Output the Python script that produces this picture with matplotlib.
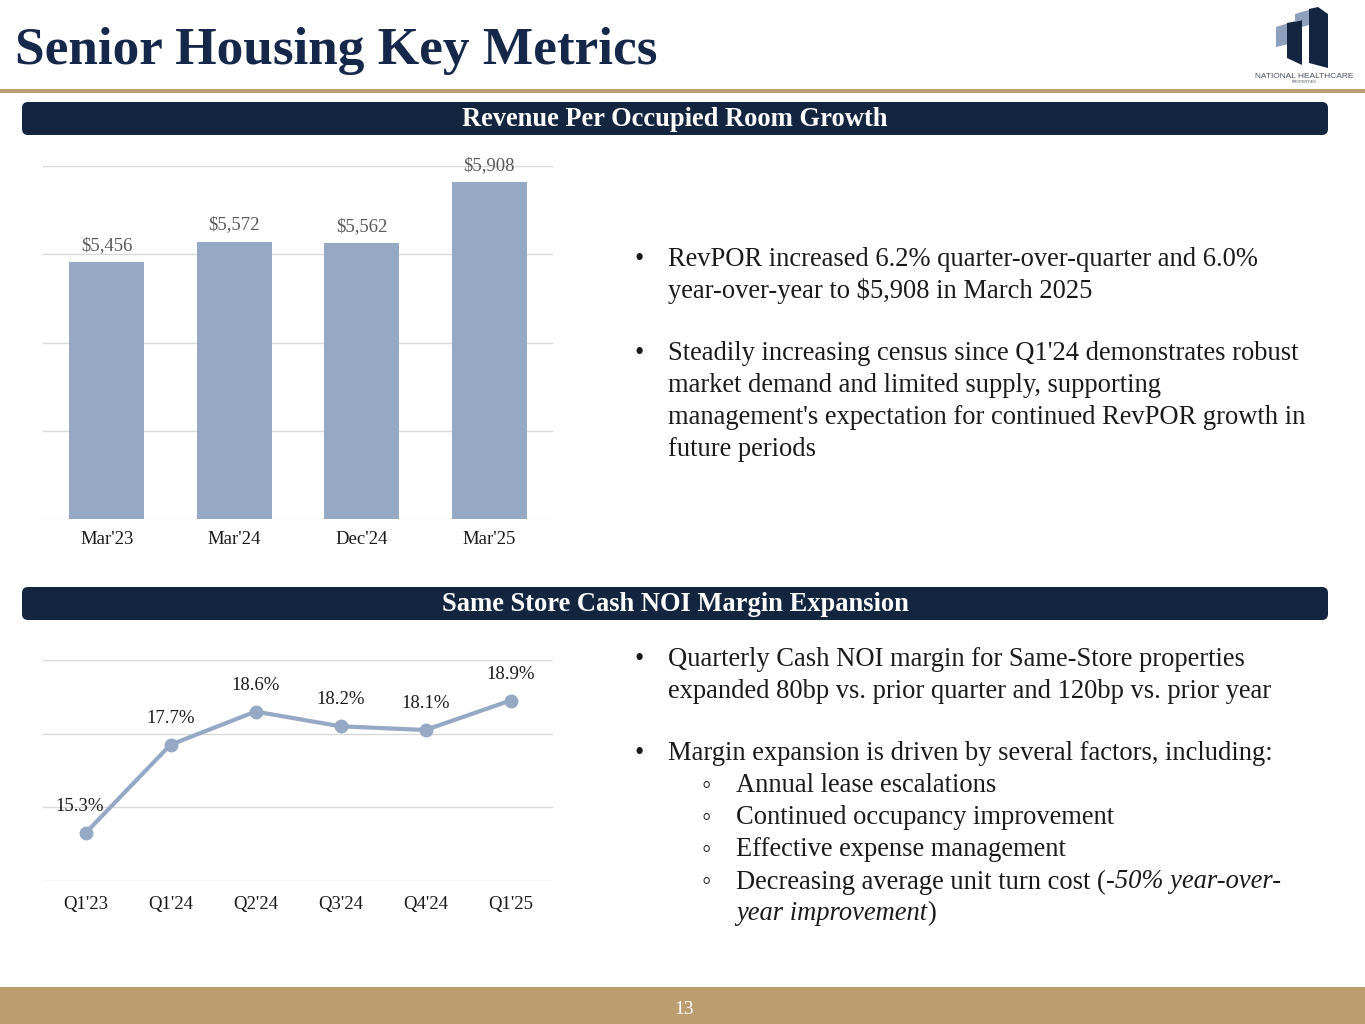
import matplotlib
matplotlib.use("Agg")
import matplotlib.pyplot as plt
from matplotlib.patches import FancyBboxPatch, Rectangle, Polygon
from matplotlib.transforms import IdentityTransform

# ---------------- data ----------------
bar_categories = ["Mar'23", "Mar'24", "Dec'24", "Mar'25"]
bar_values = [5456, 5572, 5562, 5908]
bar_labels = ["$5,456", "$5,572", "$5,562", "$5,908"]

line_categories = ["Q1'23", "Q1'24", "Q2'24", "Q3'24", "Q4'24", "Q1'25"]
line_values = [15.3, 17.7, 18.6, 18.2, 18.1, 18.9]
line_labels = ["15.3%", "17.7%", "18.6%", "18.2%", "18.1%", "18.9%"]

title_text = "Senior Housing Key Metrics"
header1 = "Revenue Per Occupied Room Growth"
header2 = "Same Store Cash NOI Margin Expansion"
page_number = "13"

# ---------------- style ----------------
W, H = 1365, 1024
SERIF = ["Liberation Serif", "DejaVu Serif"]
NAVY = "#13253f"
TITLE_NAVY = "#15284a"
GOLD = "#bb9d70"
BAR_COLOR = "#95a8c4"
GRID = "#d9d9d9"
TXT = "#1a1a1a"

plt.rcParams['font.family'] = SERIF

fig = plt.figure(figsize=(W / 100, H / 100), dpi=100)


def fx(x):
    return x / W


def fy(y):
    return 1 - y / H


def ftext(x, y, s, **kw):
    kw.setdefault("family", SERIF)
    return fig.text(fx(x), fy(y), s, **kw)


# title
ftext(15, 51, title_text, fontsize=38.3, fontweight="bold", color=TITLE_NAVY,
      ha="left", va="center")

# gold rule under title
fig.patches.append(Rectangle((0, H - 93), W, 4, transform=IdentityTransform(),
                             facecolor=GOLD, edgecolor="none"))

# logo (approximate)
logo_light = "#8d9fbd"
logo_dark = "#13253f"
polys = [
    ([(1276, 27), (1289, 23), (1289, 44), (1276, 47)], logo_light),
    ([(1287, 23), (1302, 20), (1302, 65), (1287, 58)], logo_dark),
    ([(1295, 14), (1312, 9), (1312, 24), (1302, 27), (1302, 20), (1295, 22)], logo_light),
    ([(1309, 9), (1318, 7), (1328, 14), (1328, 68), (1309, 63)], logo_dark),
]
for pts, col in polys:
    fig.patches.append(Polygon([(x, H - y) for x, y in pts], closed=True,
                               transform=IdentityTransform(), facecolor=col,
                               edgecolor="none"))
fig.text(fx(1304), fy(76), "NATIONAL HEALTHCARE", fontsize=6.0, color="#4a5366",
         ha="center", va="center", family=["Liberation Sans", "DejaVu Sans"])
fig.text(fx(1304), fy(82), "PROPERTIES", fontsize=2.8, color="#4a5366",
         ha="center", va="center", family=["Liberation Sans", "DejaVu Sans"])


# section headers
def header(y0, y1, text):
    fig.patches.append(FancyBboxPatch((22, H - y1), 1306, y1 - y0,
                                      boxstyle="round,pad=0,rounding_size=6",
                                      transform=IdentityTransform(),
                                      facecolor=NAVY, edgecolor="none"))
    ftext(675, (y0 + y1) / 2 + 1, text, fontsize=19.1, fontweight="bold",
          color="white", ha="center", va="center")


header(102, 135, header1)
header(587, 620, header2)

# footer
fig.patches.append(Rectangle((0, 0), W, H - 987, transform=IdentityTransform(),
                             facecolor=GOLD, edgecolor="none"))
ftext(684, 1009, page_number, fontsize=14, color="white", ha="center", va="center")

# ---------------- bar chart ----------------
ax1 = fig.add_axes([fx(43), fy(519), (553 - 43) / W, (519 - 166) / H])
x1 = list(range(len(bar_categories)))
ax1.bar(x1, bar_values, width=0.59, color=BAR_COLOR, zorder=2)
ax1.set_ylim(4000, 6000)
ax1.set_xlim(-0.5, len(bar_categories) - 0.5)
ax1.set_yticks([4000, 4500, 5000, 5500, 6000])
ax1.yaxis.grid(True, color=GRID, lw=1, zorder=0)
ax1.set_yticklabels([])
ax1.tick_params(axis="both", length=0)
ax1.set_xticks(x1)
ax1.set_xticklabels(bar_categories, fontsize=13.5, color=TXT)
ax1.tick_params(axis="x", pad=9)
for s in ax1.spines.values():
    s.set_visible(False)
for xi, v, lab in zip(x1, bar_values, bar_labels):
    ax1.annotate(lab, (xi, v), xytext=(0, 12), textcoords="offset points",
                 ha="center", va="center", fontsize=13.5, color="#595959")

# ---------------- line chart ----------------
ax2 = fig.add_axes([fx(43), fy(881), (553 - 43) / W, (881 - 660) / H])
x2 = list(range(len(line_categories)))
ax2.plot(x2, line_values, color=BAR_COLOR, lw=3, marker="o", markersize=9,
         zorder=3)
ax2.set_ylim(14, 20)
ax2.set_xlim(-0.5, len(line_categories) - 0.5)
ax2.set_yticks([14, 16, 18, 20])
ax2.yaxis.grid(True, color=GRID, lw=1, zorder=0)
ax2.set_yticklabels([])
ax2.tick_params(axis="both", length=0)
ax2.set_xticks(x2)
ax2.set_xticklabels(line_categories, fontsize=13.5, color=TXT)
ax2.tick_params(axis="x", pad=11)
for s in ax2.spines.values():
    s.set_visible(False)
offsets = [(-4, 19), (0, 19), (0, 19), (0, 19), (0, 19), (0, 19)]
for xi, v, lab, off in zip(x2, line_values, line_labels, offsets):
    ax2.annotate(lab, (xi, v), xytext=off, textcoords="offset points",
                 ha="center", va="center", fontsize=13.5, color=TXT)

# ---------------- bullet text ----------------
FS = 19.1
bullets_top = [
    (259, "•", "RevPOR increased 6.2% quarter-over-quarter and 6.0%"),
    (291, None, "year-over-year to $5,908 in March 2025"),
    (354, "•", "Steadily increasing census since Q1'24 demonstrates robust"),
    (386, None, "market demand and limited supply, supporting"),
    (418, None, "management's expectation for continued RevPOR growth in"),
    (450, None, "future periods"),
]
for y, b, t in bullets_top:
    if b:
        ftext(634, y, b, fontsize=FS, color=TXT, ha="left", va="center")
    ftext(668, y, t, fontsize=FS, color=TXT, ha="left", va="center")

bullets_bot = [
    (659, "•", "Quarterly Cash NOI margin for Same-Store properties"),
    (691, None, "expanded 80bp vs. prior quarter and 120bp vs. prior year"),
    (754, "•", "Margin expansion is driven by several factors, including:"),
]
for y, b, t in bullets_bot:
    if b:
        ftext(634, y, b, fontsize=FS, color=TXT, ha="left", va="center")
    ftext(668, y, t, fontsize=FS, color=TXT, ha="left", va="center")

subs = [
    (786, "Annual lease escalations"),
    (818, "Continued occupancy improvement"),
    (850, "Effective expense management"),
]
for y, t in subs:
    ftext(702, y, "◦", fontsize=FS, color=TXT, ha="left", va="center")
    ftext(736, y, t, fontsize=FS, color=TXT, ha="left", va="center")

ftext(702, 882, "◦", fontsize=FS, color=TXT, ha="left", va="center")
renderer = fig.canvas.get_renderer()


def run(x, y, parts):
    for s, style in parts:
        t = ftext(x, y, s, fontsize=FS, color=TXT, ha="left", va="center",
                  style=style)
        bb = t.get_window_extent(renderer=renderer)
        x += bb.width


run(736, 882, [("Decreasing average unit turn cost (", "normal"),
               ("-50% year-over-", "italic")])
run(736, 914, [("year improvement", "italic"), (")", "normal")])

fig.savefig("out.png", dpi=100)
